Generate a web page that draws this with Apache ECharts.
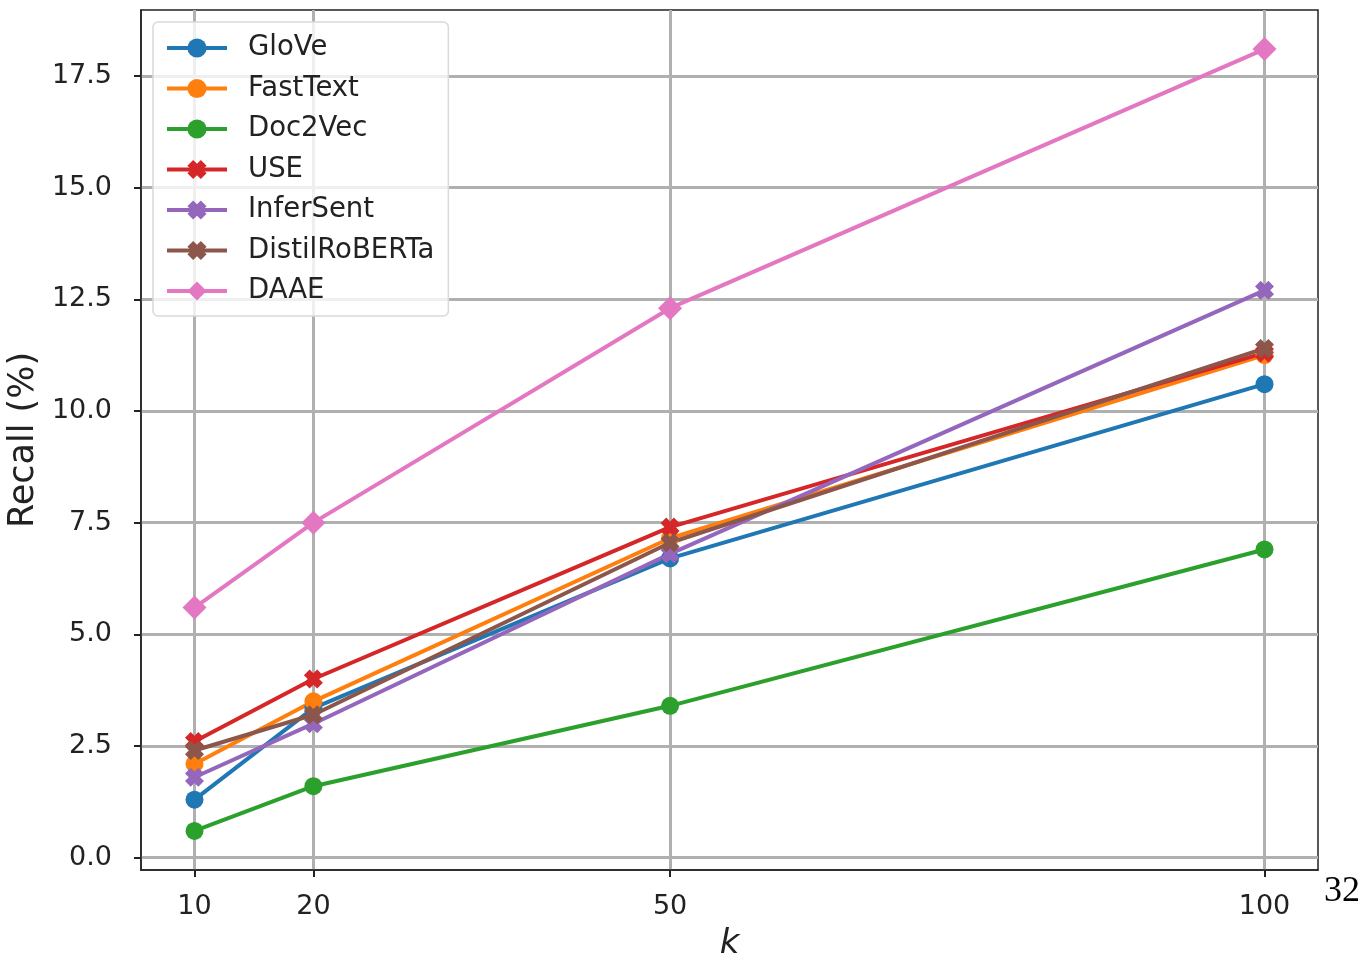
<!DOCTYPE html>
<html>
<head>
<meta charset="utf-8">
<script src="https://cdn.jsdelivr.net/npm/echarts@6/dist/echarts.min.js"></script>
<style>
html,body{margin:0;padding:0;background:#fff;}
#c{width:1362px;height:958px;}
</style>
</head>
<body>
<div id="c"></div>
<script>
const kValues = [10, 20, 50, 100];
const xTicks = [10, 20, 50, 100];
const yTicks = [0, 2.5, 5, 7.5, 10, 12.5, 15, 17.5];
const seriesNames = ['GloVe', 'FastText', 'Doc2Vec', 'USE', 'InferSent', 'DistilRoBERTa', 'DAAE'];
const glove = [1.3, 3.35, 6.7, 10.6];
const fasttext = [2.1, 3.5, 7.15, 11.25];
const doc2vec = [0.6, 1.6, 3.4, 6.9];
const use = [2.6, 4.0, 7.4, 11.3];
const infersent = [1.8, 3.0, 6.8, 12.7];
const distilroberta = [2.4, 3.2, 7.05, 11.4];
const daae = [5.6, 7.5, 12.3, 18.1];

const seriesValues = [glove, fasttext, doc2vec, use, infersent, distilroberta, daae];
const colors = ['#1f77b4', '#ff7f0e', '#2ca02c', '#d62728', '#9467bd', '#8c564b', '#e377c2'];
const X_PATH = 'path://M0,3 L3,0 L5,2 L7,0 L10,3 L8,5 L10,7 L7,10 L5,8 L3,10 L0,7 L2,5 Z';
const symbols = ['circle', 'circle', 'circle', X_PATH, X_PATH, X_PATH, 'diamond'];
const symbolSizes = [18, 18, 18, 19, 19, 19, 24];

const chart = echarts.init(document.getElementById('c'), null, {renderer: 'canvas'});
const FONT = 'DejaVu Sans';

const series = seriesNames.map((name, i) => ({
  name: name,
  type: 'line',
  data: kValues.map((k, j) => [k, seriesValues[i][j]]),
  symbol: symbols[i],
  symbolSize: symbolSizes[i],
  showAllSymbol: true,
  color: colors[i],
  lineStyle: {width: 4, color: colors[i]},
  itemStyle: {color: colors[i]},
  emphasis: {disabled: true},
  animation: false
}));

chart.setOption({
  animation: false,
  backgroundColor: '#fff',
  grid: {left: 141, right: 44, top: 10, bottom: 88, outerBoundsMode: 'none', show: true, borderColor: '#222', borderWidth: 1.5, backgroundColor: 'transparent'},
  legend: {
    show: true,
    left: 153, top: 22,
    orient: 'vertical',
    itemWidth: 60, itemHeight: 24, itemGap: 12.5,
    padding: [12, 14, 11, 12],
    backgroundColor: 'rgba(255,255,255,0.8)',
    borderColor: '#d9d9d9', borderWidth: 1.5, borderRadius: 5,
    lineStyle: {width: 4},
    textStyle: {fontFamily: FONT, fontSize: 27.5, color: '#222', lineHeight: 24, padding: [0, 0, 0, 16]},
    data: seriesNames
  },
  xAxis: {
    type: 'value',
    min: 5.5, max: 104.5,
    name: 'k', nameLocation: 'middle', nameGap: 57,
    nameTextStyle: {fontFamily: FONT, fontSize: 34, fontStyle: 'italic', color: '#222'},
    axisLine: {show: true, onZero: false, lineStyle: {color: '#222', width: 1.5}},
    axisTick: {show: true, length: 7, lineStyle: {color: '#222', width: 2}, customValues: xTicks},
    axisLabel: {fontFamily: FONT, fontSize: 27, color: '#222', margin: 23, customValues: xTicks},
    splitLine: {show: true, lineStyle: {color: '#b0b0b0', width: 3}, showMinLine: true, showMaxLine: true}
  },
  yAxis: {
    type: 'value',
    min: -0.275, max: 18.975,
    name: 'Recall (%)', nameLocation: 'middle', nameGap: 93,
    nameTextStyle: {fontFamily: FONT, fontSize: 35, color: '#222'},
    axisLine: {show: true, onZero: false, lineStyle: {color: '#222', width: 1.5}},
    axisTick: {show: true, length: 7, lineStyle: {color: '#222', width: 2}, customValues: yTicks},
    axisLabel: {fontFamily: FONT, fontSize: 27, color: '#222', margin: 29, customValues: yTicks,
      formatter: v => v.toFixed(1)},
    splitLine: {show: true, lineStyle: {color: '#b0b0b0', width: 3}, showMinLine: true, showMaxLine: true}
  },
  graphic: [{
    type: 'text', left: 1324, top: 874,
    style: {text: '32', font: '36px "Liberation Serif"', fill: '#000'}
  }],
  series: series
});
</script>
</body>
</html>
